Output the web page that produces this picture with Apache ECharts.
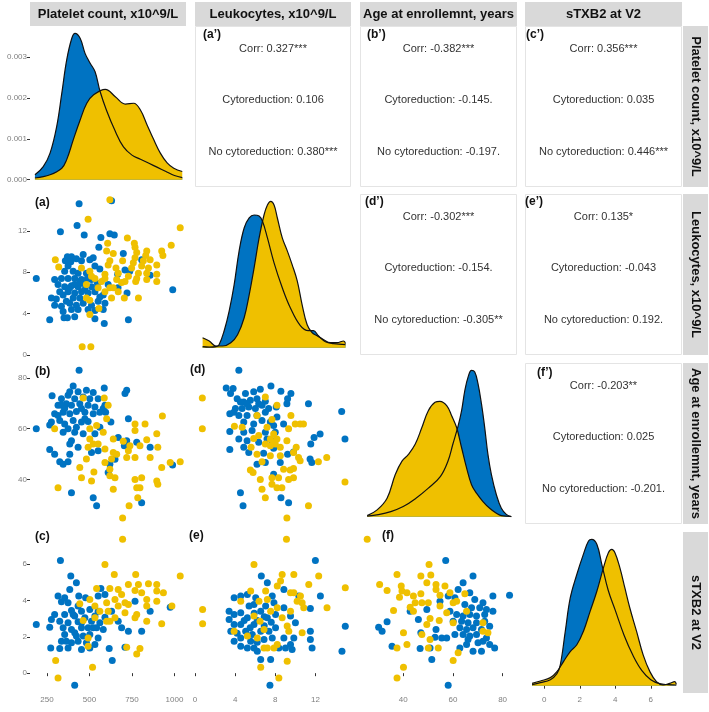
<!DOCTYPE html>
<html><head><meta charset="utf-8">
<script src="https://cdn.jsdelivr.net/npm/echarts@6/dist/echarts.min.js"></script>
<style>html,body{margin:0;padding:0;background:#fff}#c{width:709px;height:712px}</style>
</head><body><div id="c"></div><script>
// ---------- names / ticks ----------
const varNames = ['Platelet count, x10^9/L', 'Leukocytes, x10^9/L', 'Age at enrollemnt, years', 'sTXB2 at V2'];
const groups = ['Cytoreduction', 'No cytoreduction'];
const plateletTicks = [250, 500, 750, 1000];
const leukTicks = [0, 4, 8, 12];
const ageTicks = [40, 60, 80];
const stxbTicks = [0, 2, 4, 6];
const densityTicks = [0, 0.001, 0.002, 0.003];
const varMin = [150, 0, 22.6, -1.09];
const varMax = [1068, 15.55, 85.8, 7.76];

// ---------- correlation texts ----------
const corrTags = ["(a’)", "(b’)", "(c’)", "(d’)", "(e’)", "(f’)"];
const corrAll = ['0.327***', '-0.382***', '0.356***', '-0.302***', '0.135*', '-0.203**'];
const corrCyto = ['0.106', '-0.145.', '0.035', '-0.154.', '-0.043', '0.025'];
const corrNoCyto = ['0.380***', '-0.197.', '0.446***', '-0.305**', '0.192.', '-0.201.'];

// ---------- densities (diagonal) ----------
const densPlateletBlue = [[179,0.00012],[228,0.00032],[268,0.00065],[307,0.0013],[337,0.00211],[366,0.00293],[396,0.00346],[415,0.00358],[445,0.00346],[474,0.00309],[504,0.00285],[533,0.00264],[563,0.00215],[600,0.0017],[650,0.0012],[700,0.0008],[750,0.0006],[800,0.0005],[850,0.0004],[900,0.0003],[950,0.0002],[1000,0.0001],[1046,0.00005]];
const densPlateletYellow = [[179,0.00004],[268,0.00012],[337,0.00028],[366,0.00049],[405,0.00098],[445,0.00146],[484,0.00187],[523,0.00207],[593,0.00221],[652,0.00203],[711,0.00185],[760,0.00187],[799,0.00171],[839,0.00134],[878,0.00098],[917,0.00065],[957,0.00041],[996,0.00028],[1046,0.0002]];
const densLeukBlue = [[0.76,1],[1.42,0.5],[2.09,1],[2.4,3],[2.91,17],[3.41,37],[3.9,63],[4.4,97],[4.9,120],[5.4,130],[5.89,133],[6.39,132],[6.72,127],[7.22,110],[7.88,85],[8.7,60],[9.5,40],[10.5,22],[11.3,17],[11.8,17],[12.3,12],[13,6],[13.8,4],[15.0,3]];
const densLeukYellow = [[0.76,10],[1.42,6.7],[2.09,1.7],[2.75,1.7],[3.57,5],[4.24,13],[4.9,30],[5.4,53],[5.89,80],[6.39,110],[6.88,133],[7.22,143],[7.55,146.7],[7.88,143],[8.21,130],[8.7,110],[9.2,97],[9.69,83],[10.19,67],[10.68,43],[11.18,23],[11.67,15],[12.17,12],[12.83,8],[13.49,5],[14.15,5],[14.82,6.7],[15.0,4]];
const densAgeBlue = [[25.5,0.5],[30,2],[35,5],[40,10],[45,18],[50,28],[55,40],[58,55],[60,72],[62.1,90],[63.5,105],[64.8,125],[66.1,138.3],[67.5,145],[68.8,143.3],[70.1,131.7],[71.5,111.7],[72.8,88.3],[74.1,61.7],[75.5,41.7],[77.5,21.7],[79.5,8.3],[81.5,2.3],[83.5,0]];
const densAgeYellow = [[25.5,1],[29.5,6.7],[33.5,18.3],[36.8,41.7],[39.5,55],[42.1,61.7],[44.8,71.7],[47.5,88.3],[50.1,105],[52.8,113.3],[54.8,114.3],[57.5,110],[59.5,100],[61.5,88.3],[63.5,68.3],[65.5,48.3],[67.5,31.7],[69.5,23.3],[72.1,15],[74.8,8.3],[77.5,3.3],[79.5,1],[83.5,0.2]];
const densStxbBlue = [[-0.69,1],[-0.22,3],[0.34,6],[0.71,12],[0.9,20.7],[1.18,54],[1.46,87.3],[1.83,110.7],[2.2,130.7],[2.49,144],[2.67,145.7],[2.96,140.7],[3.24,120.7],[3.6,95],[4.0,75],[4.5,50],[5.0,30],[5.5,15],[6.0,6],[6.5,2],[7.0,1],[7.44,0.5]];
const densStxbYellow = [[-0.69,2.3],[-0.22,4.7],[0.34,8],[0.71,14],[1.08,24],[1.46,34],[1.83,40.7],[2.2,54],[2.58,74],[2.96,94],[3.33,117.3],[3.61,132.3],[3.8,135.7],[3.98,132.3],[4.26,117.3],[4.54,97.3],[4.82,77.3],[5.2,54],[5.57,30.7],[5.95,14],[6.32,4],[6.69,0.7],[7.07,2.3],[7.35,4],[7.44,1.3]];

// ---------- scatter panels ----------
const scatterA_blue = [[439,14.6],[630,14.9],[427,12.5],[329,11.9],[469,11.6],[620,11.7],[646,11.6],[567,11.35],[555,10.4],[699,9.8],[370,9.5],[394,9.5],[463,9.7],[358,9.1],[390,9.0],[423,9.3],[453,9.1],[502,9.2],[522,9.4],[807,9.2],[374,8.6],[532,8.6],[561,8.3],[709,8.2],[737,8.1],[354,8.1],[404,8.1],[433,7.9],[666,7.8],[857,7.7],[187,7.4],[295,7.3],[335,7.4],[374,7.4],[413,7.4],[453,7.3],[488,7.4],[315,6.8],[354,6.6],[394,6.7],[433,6.6],[463,6.9],[512,6.6],[547,6.9],[668,6.5],[990,6.3],[345,5.8],[374,6.1],[413,6.0],[453,6.1],[492,6.0],[532,6.1],[581,5.8],[721,6.0],[276,5.5],[305,5.4],[561,5.6],[295,4.8],[335,4.7],[384,5.0],[423,4.8],[463,5.0],[512,4.8],[551,5.2],[591,5.0],[394,4.4],[433,4.4],[345,4.2],[532,4.3],[581,4.4],[350,3.6],[370,3.6],[266,3.4],[729,3.4],[587,3.05],[413,3.7],[532,3.5],[413,6.8],[443,7.1],[404,5.5],[443,5.5],[473,6.3],[325,6.1],[384,6.5],[482,7.9],[512,7.3],[610,6.8],[364,5.2],[492,4.4]];
const scatterA_yellow = [[620,15.0],[492,13.1],[1034,12.3],[723,11.3],[607,10.8],[764,10.8],[768,10.4],[981,10.6],[601,10.05],[640,9.8],[837,10.05],[925,10.05],[778,9.9],[831,9.6],[932,9.6],[299,9.2],[695,9.1],[620,9.1],[768,9.4],[758,8.9],[817,9.1],[857,9.2],[610,8.7],[896,8.7],[847,8.4],[319,8.5],[453,8.4],[502,8.1],[656,8.4],[669,7.9],[512,7.6],[591,7.8],[788,7.9],[837,7.9],[896,7.8],[571,7.1],[591,7.4],[532,7.4],[709,7.1],[689,7.0],[778,7.4],[772,7.1],[837,7.3],[896,7.1],[482,6.8],[551,6.5],[620,6.5],[640,6.5],[788,5.5],[705,5.5],[630,5.5],[502,5.3],[482,5.5],[555,4.5],[502,3.9],[457,0.8],[508,0.8],[729,7.6],[660,7.3],[807,8.6],[748,8.4],[591,6.1],[669,6.1]];
const scatterB_blue = [[439,83.0],[280,72.9],[404,76.8],[433,74.5],[482,75.1],[522,74.2],[587,76.0],[719,75.1],[709,73.8],[374,73.1],[335,71.8],[413,71.8],[463,72.5],[551,71.8],[315,69.2],[364,69.8],[394,69.2],[443,69.8],[492,69.2],[532,68.5],[581,67.9],[295,65.9],[345,66.5],[384,65.9],[423,66.8],[473,66.5],[522,65.9],[561,66.5],[595,66.5],[276,62.6],[325,63.2],[354,61.9],[404,63.2],[453,62.6],[492,62.8],[187,60.0],[266,61.5],[345,58.6],[374,60.0],[413,58.6],[463,58.0],[532,58.0],[626,62.6],[729,63.9],[669,56.6],[719,55.3],[778,54.7],[857,52.7],[394,55.3],[384,54.0],[433,52.7],[266,51.8],[295,50.0],[384,50.0],[512,50.7],[551,51.4],[325,47.0],[345,46.1],[374,47.0],[650,48.0],[620,46.1],[610,42.8],[989,45.8],[394,34.9],[522,32.9],[542,29.8],[807,30.9],[705,53.3],[335,69.2],[384,74.5],[453,67.9],[502,71.8],[315,65.2],[423,60.6],[561,60.6],[591,69.2],[354,67.9],[473,63.9]];
const scatterB_yellow = [[463,72.1],[587,72.1],[610,69.2],[601,63.9],[542,61.3],[502,60.0],[295,60.0],[768,61.9],[827,61.9],[929,65.0],[581,58.6],[768,59.3],[896,58.0],[502,56.0],[551,54.0],[640,56.0],[699,55.1],[837,55.7],[738,53.3],[492,52.7],[591,52.0],[640,50.7],[660,50.0],[797,53.3],[902,52.7],[719,48.7],[768,48.7],[857,48.7],[482,48.1],[591,46.7],[443,44.8],[620,44.1],[925,44.8],[975,46.7],[1034,47.0],[526,43.0],[453,40.8],[620,41.5],[650,40.8],[512,39.5],[768,40.1],[807,40.8],[896,39.5],[902,38.2],[315,36.8],[640,36.2],[778,36.8],[797,36.8],[784,32.9],[733,29.8],[695,25.0],[522,54.0],[630,48.1],[729,51.4]];
const scatterC_blue = [[329,6.2],[390,5.34],[423,4.97],[384,4.6],[567,4.66],[315,4.24],[354,4.15],[335,3.93],[374,3.87],[437,4.24],[477,4.15],[551,4.24],[591,4.33],[768,3.96],[433,3.69],[394,3.45],[453,3.41],[502,3.5],[551,3.41],[630,3.41],[857,3.41],[975,3.63],[295,3.23],[354,3.23],[413,3.14],[473,3.04],[532,3.14],[591,3.08],[276,2.95],[325,2.86],[374,2.77],[433,2.82],[512,2.86],[561,2.77],[187,2.68],[669,2.86],[266,2.53],[345,2.49],[394,2.4],[453,2.49],[522,2.49],[581,2.4],[689,2.49],[729,2.31],[807,2.31],[354,2.13],[413,2.22],[463,2.04],[502,2.13],[551,1.94],[335,1.76],[394,1.67],[433,1.76],[482,1.67],[532,1.58],[272,1.39],[325,1.36],[374,1.39],[453,1.3],[502,1.39],[616,1.36],[709,1.43],[634,0.69],[413,-0.66],[404,3.23],[453,2.77],[492,2.49],[364,1.76],[423,2.04],[542,2.49]];
const scatterC_yellow = [[695,7.36],[591,5.98],[646,5.43],[772,5.43],[1034,5.34],[729,4.88],[788,4.88],[847,4.92],[896,4.88],[542,4.66],[620,4.66],[669,4.6],[768,4.55],[807,4.42],[896,4.51],[935,4.42],[689,4.33],[502,4.05],[650,4.05],[709,3.87],[837,4.05],[443,3.81],[601,3.87],[532,3.69],[669,3.69],[729,3.78],[896,3.96],[985,3.69],[610,3.41],[709,3.32],[778,3.23],[837,3.69],[463,2.9],[601,2.86],[768,3.04],[837,2.86],[925,2.71],[620,2.86],[492,1.94],[719,1.43],[797,1.36],[778,1.06],[301,0.69],[518,0.33],[315,-0.26],[561,3.41],[650,3.04],[492,1.48],[532,3.04]];
const scatterD_blue = [[4.37,83.0],[3.11,76.0],[3.80,75.8],[3.54,73.8],[5.03,73.8],[5.85,74.5],[6.51,75.5],[7.57,76.8],[8.56,74.7],[9.56,73.8],[9.23,71.8],[4.20,71.8],[4.86,70.5],[5.52,71.2],[6.18,71.8],[7.01,70.8],[4.03,67.9],[4.70,67.9],[5.36,68.5],[6.02,67.9],[6.68,69.2],[7.34,67.9],[8.10,68.5],[9.16,69.8],[11.31,69.8],[14.62,66.8],[3.47,65.9],[4.37,65.2],[5.19,65.2],[6.18,65.2],[7.01,66.5],[8.17,64.6],[8.83,61.9],[4.86,62.6],[5.85,61.9],[6.68,63.2],[7.51,62.6],[3.47,58.9],[4.86,58.6],[5.69,59.3],[7.01,58.6],[8.00,58.6],[4.37,56.0],[5.19,55.3],[6.35,54.7],[7.67,55.3],[12.47,57.9],[11.87,56.6],[14.95,56.0],[3.47,51.8],[4.86,52.7],[5.36,50.7],[6.84,50.4],[7.84,52.3],[9.23,50.0],[11.54,54.0],[9.82,50.9],[6.18,46.1],[7.01,46.7],[11.47,48.1],[11.64,46.7],[8.50,46.7],[7.84,42.1],[4.53,34.9],[4.79,29.8],[8.57,32.9],[9.33,30.9],[4.53,70.5],[5.19,69.8],[6.35,69.8],[3.87,66.5],[7.84,61.3],[7.18,56.0]];
const scatterD_yellow = [[0.73,72.1],[0.73,60.0],[7.01,72.5],[8.17,69.2],[6.18,65.2],[9.56,65.2],[9.99,61.9],[10.48,61.9],[10.81,61.9],[3.93,61.0],[4.70,60.6],[7.67,63.6],[7.18,60.6],[9.33,60.0],[6.35,57.3],[5.85,56.2],[7.51,56.0],[7.84,54.7],[8.00,54.0],[7.51,53.3],[7.01,54.0],[9.16,55.3],[10.09,52.7],[5.59,52.7],[8.50,52.7],[6.18,50.0],[7.51,49.4],[9.82,50.7],[10.32,48.7],[10.48,47.4],[13.13,48.7],[12.30,47.0],[6.68,47.0],[5.52,43.8],[5.79,42.8],[8.83,44.1],[9.49,43.8],[9.82,44.4],[7.67,40.8],[8.33,40.8],[9.33,40.1],[9.82,40.8],[6.51,40.1],[7.67,38.2],[8.17,36.8],[8.66,36.8],[6.68,36.2],[7.01,32.9],[14.95,39.1],[11.31,29.8],[9.16,25.0],[7.84,57.9],[8.17,56.0],[8.50,49.4]];
const scatterE_blue = [[12.0,6.2],[6.61,5.34],[7.21,4.97],[8.86,4.6],[12.5,4.24],[11.5,3.56],[14.98,2.58],[11.5,2.31],[11.5,1.85],[11.67,1.39],[14.65,1.21],[3.4,3.41],[3.9,4.15],[4.56,4.24],[5.22,4.33],[5.88,3.78],[3.4,2.95],[3.9,2.68],[3.57,2.31],[3.9,1.76],[4.56,1.48],[5.22,1.39],[5.88,1.39],[6.21,1.21],[6.55,0.75],[7.54,0.75],[7.47,-0.66],[8.36,1.39],[9.02,1.39],[9.68,1.3],[9.52,1.58],[8.86,1.94],[9.85,1.94],[10.01,2.77],[9.52,3.14],[7.87,3.87],[7.7,4.24],[8.03,3.23],[4.56,3.32],[5.22,3.04],[5.88,2.68],[6.55,3.41],[7.21,3.04],[4.56,2.68],[5.05,2.31],[5.71,2.13],[6.55,2.31],[7.37,2.31],[8.03,2.49],[4.56,1.94],[5.55,1.76],[6.88,1.85],[7.7,1.94],[3.9,3.23],[5.39,3.69],[7.04,3.69],[6.05,4.15],[8.86,3.6],[10.35,4.24],[4.9,2.9],[6.2,2.9],[6.9,2.6],[5.5,2.5],[6.2,1.7],[4.2,2.2],[7.6,2.8],[5.9,3.3],[6.9,3.1]];
const scatterE_yellow = [[9.12,7.36],[5.88,5.98],[0.76,3.5],[0.76,2.71],[14.98,4.7],[12.33,5.34],[11.34,4.88],[9.85,5.43],[8.69,5.43],[8.53,5.06],[7.04,4.51],[8.2,4.79],[9.52,4.42],[9.85,4.42],[10.51,4.24],[10.68,3.87],[10.18,3.96],[7.21,4.05],[6.38,3.96],[4.56,3.96],[5.55,4.51],[13.16,3.6],[10.84,3.6],[9.52,3.41],[8.2,3.6],[5.88,3.14],[6.48,2.86],[9.19,2.59],[9.35,2.31],[10.68,2.22],[3.9,2.31],[5.22,2.04],[7.21,1.39],[7.87,1.39],[6.88,1.39],[8.2,1.58],[9.19,0.66],[6.55,0.33],[8.36,-0.26],[7.54,3.41],[6.88,2.4],[8.69,3.04],[6.21,1.94]];
const scatterF_blue = [[57.1,6.2],[68.1,5.34],[64.1,4.97],[62.1,4.6],[82.8,4.29],[76.1,4.24],[66.8,4.42],[58.1,4.24],[54.8,3.96],[68.8,4.05],[72.1,3.87],[73.5,3.5],[76.1,3.41],[42.8,3.41],[49.5,3.5],[46.1,2.95],[33.5,2.82],[30.1,2.53],[31.5,2.31],[47.1,2.22],[53.2,2.4],[52.8,1.98],[55.5,1.94],[35.5,1.48],[46.8,1.36],[50.8,1.39],[51.5,0.75],[58.1,-0.66],[62.8,1.39],[65.5,1.58],[68.1,1.21],[71.5,1.21],[76.8,1.39],[74.8,1.58],[72.1,1.76],[58.8,3.41],[61.5,3.23],[64.1,3.14],[66.8,3.23],[69.5,3.14],[60.1,2.86],[63.5,2.86],[66.1,2.77],[69.5,2.77],[72.8,2.86],[62.8,2.49],[65.5,2.4],[68.1,2.49],[71.5,2.4],[74.8,2.58],[64.1,2.13],[66.8,2.04],[69.5,2.13],[73.5,1.94],[57.5,1.94],[60.8,2.13],[66.1,1.85],[70.1,1.67],[67.5,3.6],[70.8,3.6],[64.8,3.78],[60.8,4.15],[72.8,3.23]];
const scatterF_yellow = [[25.5,7.36],[50.4,5.98],[37.5,5.43],[47.1,5.34],[51.1,5.39],[30.5,4.88],[33.5,4.55],[39.2,4.79],[39.5,4.51],[49.5,4.97],[53.2,4.88],[53.2,4.6],[56.8,4.79],[41.5,4.42],[44.1,4.24],[47.1,4.37],[38.5,4.18],[54.8,4.29],[58.8,4.42],[61.5,3.96],[64.8,4.37],[44.8,3.87],[47.5,3.87],[50.1,3.87],[42.8,3.63],[44.1,3.41],[36.1,3.45],[54.8,3.69],[60.1,3.87],[57.5,3.32],[50.8,3.01],[54.5,2.9],[49.5,2.68],[60.1,2.77],[72.1,2.77],[72.1,2.31],[40.1,2.22],[47.5,2.13],[50.8,1.85],[41.5,1.58],[37.5,1.39],[50.1,1.39],[54.1,1.39],[62.1,1.12],[60.1,0.69],[40.1,0.33],[37.5,-0.26],[74.1,2.22],[65.5,3.41]];

// ---------- layout ----------
const BLUE = '#0073C2', YELLOW = '#EFC000';
const colX = [30, 195, 360, 525];
const colW = [156, 156, 157, 157];
const rowY = [26, 194, 363, 532];
const rowH = 161;
const varTicks = [plateletTicks, leukTicks, ageTicks, stxbTicks];
const FONT = '"Liberation Sans", Arial, Helvetica, sans-serif';

const panels = [
  {r:0,c:0,kind:'dens',blue:densPlateletBlue,yellow:densPlateletYellow},
  {r:1,c:1,kind:'dens',blue:densLeukBlue,yellow:densLeukYellow},
  {r:2,c:2,kind:'dens',blue:densAgeBlue,yellow:densAgeYellow},
  {r:3,c:3,kind:'dens',blue:densStxbBlue,yellow:densStxbYellow},
  {r:1,c:0,kind:'sc',blue:scatterA_blue,yellow:scatterA_yellow,tag:'(a)',tx:35,ty:203},
  {r:2,c:0,kind:'sc',blue:scatterB_blue,yellow:scatterB_yellow,tag:'(b)',tx:35,ty:372},
  {r:3,c:0,kind:'sc',blue:scatterC_blue,yellow:scatterC_yellow,tag:'(c)',tx:35,ty:537},
  {r:2,c:1,kind:'sc',blue:scatterD_blue,yellow:scatterD_yellow,tag:'(d)',tx:190,ty:370},
  {r:3,c:1,kind:'sc',blue:scatterE_blue,yellow:scatterE_yellow,tag:'(e)',tx:189,ty:536},
  {r:3,c:2,kind:'sc',blue:scatterF_blue,yellow:scatterF_yellow,tag:'(f)',tx:382,ty:536}
];
const corrPanels = [
  {r:0,c:1,tx:203,ty:35},{r:0,c:2,tx:367,ty:35},{r:0,c:3,tx:526,ty:35},
  {r:1,c:2,tx:365,ty:202},{r:1,c:3,tx:525,ty:202},{r:2,c:3,tx:537,ty:373}
];

const grid = [], xAxis = [], yAxis = [], series = [];
const tickStyle = {show:true, length:3, inside:false, lineStyle:{color:'#333', width:1}};
const labStyle = {color:'#7f7f7f', fontSize:8, fontFamily:FONT, margin:3, formatter: v => String(v)};

panels.forEach((p, i) => {
  grid.push({left: colX[p.c], top: rowY[p.r], width: colW[p.c], height: rowH, containLabel:false});
  const showX = p.r === 3;
  xAxis.push({
    gridIndex:i, type:'value', min:varMin[p.c], max:varMax[p.c],
    axisLine:{show:false}, splitLine:{show:false},
    axisTick: showX ? Object.assign({}, tickStyle, {customValues: varTicks[p.c]}) : {show:false},
    axisLabel: showX ? Object.assign({}, labStyle, {customValues: varTicks[p.c]}) : {show:false}
  });
  if (p.kind === 'dens') {
    if (p.r === 0) {
      yAxis.push({gridIndex:i, type:'value', min:-0.00018, max:0.00376,
        axisLine:{show:false}, splitLine:{show:false},
        axisTick:Object.assign({}, tickStyle, {customValues: densityTicks}),
        axisLabel:Object.assign({}, labStyle, {customValues: densityTicks, formatter: v => Number(v).toFixed(3)})});
    } else {
      const peak = Math.max(...p.blue.map(d => d[1]), ...p.yellow.map(d => d[1]));
      yAxis.push({gridIndex:i, type:'value', min:-0.05*peak, max:1.05*peak, show:false,
        axisLine:{show:false}, splitLine:{show:false}, axisTick:{show:false}, axisLabel:{show:false}});
    }
    [['blue', BLUE], ['yellow', YELLOW]].forEach(([k, col]) => {
      series.push({type:'line', xAxisIndex:i, yAxisIndex:i, data:p[k], smooth:0.4, showSymbol:false,
        symbol:'none', silent:true, animation:false,
        lineStyle:{color:'#111', width:1.2}, areaStyle:{color:col, opacity:1, origin:0}});
    });
  } else {
    const showY = p.c === 0;
    yAxis.push({gridIndex:i, type:'value', min:varMin[p.r], max:varMax[p.r],
      axisLine:{show:false}, splitLine:{show:false},
      axisTick: showY ? Object.assign({}, tickStyle, {customValues: varTicks[p.r]}) : {show:false},
      axisLabel: showY ? Object.assign({}, labStyle, {customValues: varTicks[p.r]}) : {show:false}});
    [['blue', BLUE], ['yellow', YELLOW]].forEach(([k, col]) => {
      series.push({type:'scatter', xAxisIndex:i, yAxisIndex:i, data:p[k], symbolSize:7,
        silent:true, animation:false, itemStyle:{color:col, opacity:1}});
    });
  }
});

// ---------- graphics: strips, corr panels, tags ----------
const g = [];
function txt(x, y, text, o) {
  o = o || {};
  return Object.assign({type:'text', x:x, y:y, z:100, silent:true,
    style:{text:text, fill:o.fill||'#1a1a1a', fontSize:o.size||11, fontWeight:o.weight||'normal', fontFamily:FONT,
      textAlign:o.align||'center', align:o.align||'center', textVerticalAlign:'middle', verticalAlign:'middle'}},
    o.rotation!==undefined ? {rotation:o.rotation} : {});
}
for (let k = 0; k < 4; k++) {
  g.push({type:'rect', z:50, silent:true, shape:{x:colX[k], y:2, width:colW[k], height:24}, style:{fill:'#D9D9D9'}});
  g.push(txt(colX[k] + colW[k]/2, 14.5, varNames[k], {size:13, weight:'bold', fill:'#111'}));
  g.push({type:'rect', z:50, silent:true, shape:{x:683, y:rowY[k], width:25, height:rowH}, style:{fill:'#D9D9D9'}});
  g.push(txt(695.5, rowY[k] + rowH/2, varNames[k], {size:13, weight:'bold', fill:'#111', rotation:-Math.PI/2}));
}
corrPanels.forEach((cp, j) => {
  const x0 = colX[cp.c], y0 = rowY[cp.r], w = colW[cp.c];
  g.push({type:'rect', z:40, silent:true, shape:{x:x0+0.5, y:y0+0.5, width:w-1, height:rowH-1},
    style:{fill:'#fff', stroke:'#E4E4E4', lineWidth:1}});
  g.push(txt(x0 + w/2, y0 + 23, 'Corr: ' + corrAll[j], {size:11, fill:'#333'}));
  g.push(txt(x0 + w/2, y0 + 74, groups[0] + ': ' + corrCyto[j], {size:11, fill:'#333'}));
  g.push(txt(x0 + w/2, y0 + 126, groups[1] + ': ' + corrNoCyto[j], {size:11, fill:'#333'}));
  g.push(txt(cp.tx, cp.ty, corrTags[j], {size:12, weight:'bold', align:'left', fill:'#111'}));
});
panels.forEach(p => { if (p.tag) g.push(txt(p.tx, p.ty, p.tag, {size:12, weight:'bold', align:'left', fill:'#111'})); });

const chart = echarts.init(document.getElementById('c'), null, {renderer:'canvas'});
chart.setOption({backgroundColor:'#fff', animation:false, grid, xAxis, yAxis, series, graphic:{elements:g}});
</script></body></html>
